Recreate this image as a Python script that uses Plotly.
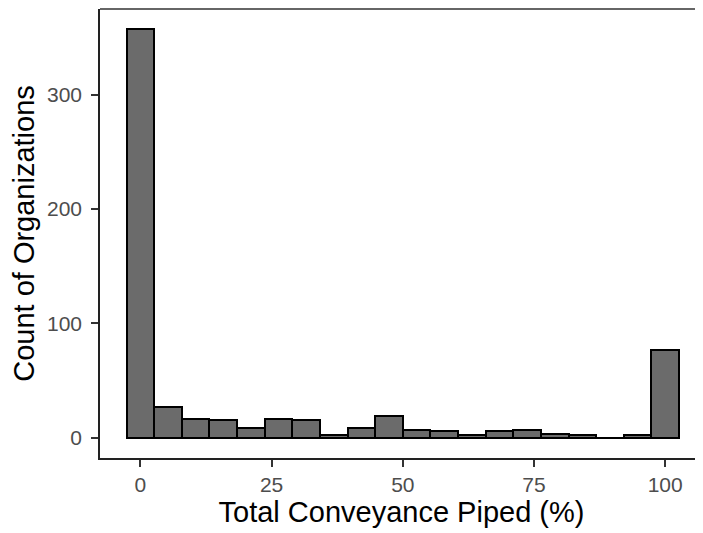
import plotly.graph_objects as go

bin_centers = [0, 5.26, 10.53, 15.79, 21.05, 26.32, 31.58, 36.84, 42.11, 47.37,
               52.63, 57.89, 63.16, 68.42, 73.68, 78.95, 84.21, 89.47, 94.74, 100]
counts = [357, 27, 16, 15, 8, 16, 15, 2, 8, 19, 7, 6, 2, 6, 7, 3, 2, 0, 2, 77]
bin_width = 5.263
x_ticks = [0, 25, 50, 75, 100]
y_ticks = [0, 100, 200, 300]

fig = go.Figure(go.Bar(
    x=bin_centers, y=counts, width=[bin_width] * len(counts),
    marker=dict(color="#6b6b6b", line=dict(color="black", width=2)),
))

# page body has an 8px default margin, so the figure is sized to fit 703x533
fig.update_layout(
    width=695, height=525,
    margin=dict(l=92, r=0, t=1, b=75),
    plot_bgcolor="white", paper_bgcolor="white",
    bargap=0, showlegend=False,
    font=dict(family="Liberation Sans, Arial, sans-serif"),
    shapes=[dict(type="line", xref="paper", yref="paper", x0=0, x1=1, y0=1, y1=1,
                 line=dict(color="#333333", width=1.5))],
)
fig.update_xaxes(
    range=[-7.7, 107.2], tickvals=x_ticks, ticktext=[str(v) for v in x_ticks],
    showgrid=False, zeroline=False, showline=True, linecolor="#222222", linewidth=1.5,
    ticks="outside", ticklen=7, tickwidth=1.5, tickcolor="#333333",
    tickfont=dict(size=21, color="#4d4d4d"), ticklabelstandoff=0,
    title=dict(text="Total Conveyance Piped (%)", font=dict(size=29, color="black"), standoff=6),
)
fig.update_yaxes(
    range=[-17.85, 374.85], tickvals=y_ticks, ticktext=[str(v) for v in y_ticks],
    showgrid=False, zeroline=False, showline=True, linecolor="#222222", linewidth=1.5,
    ticks="outside", ticklen=7, tickwidth=1.5, tickcolor="#333333",
    tickfont=dict(size=21, color="#4d4d4d"), ticklabelstandoff=5,
    title=dict(text="Count of Organizations", font=dict(size=29, color="black"), standoff=8),
)

fig.write_html("out.html")
